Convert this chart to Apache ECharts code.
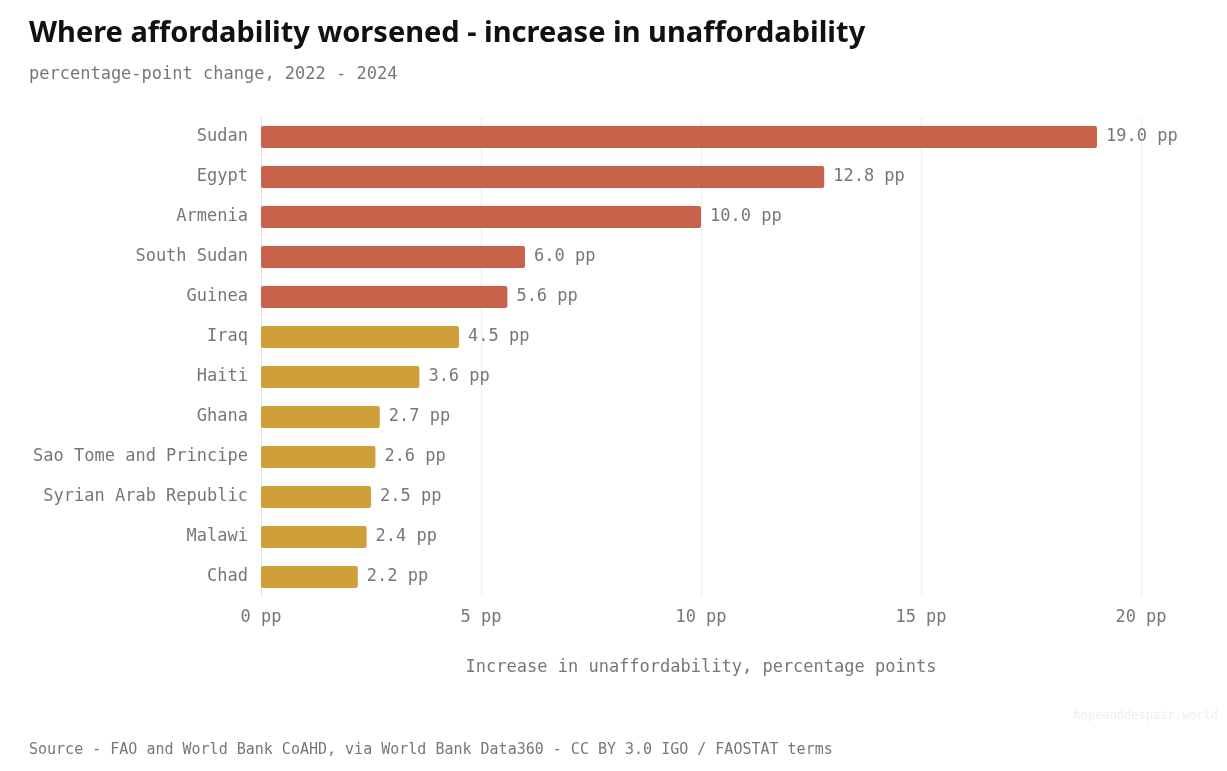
<!DOCTYPE html>
<html><head><meta charset="utf-8">
<script src="https://cdn.jsdelivr.net/npm/echarts@6/dist/echarts.min.js"></script>
<style>html,body{margin:0;padding:0;background:#fff}#chart{width:1227px;height:771px}</style>
</head><body><div id="chart"></div>
<script>
// valores
const countries = ["Sudan","Egypt","Armenia","South Sudan","Guinea","Iraq","Haiti","Ghana","Sao Tome and Principe","Syrian Arab Republic","Malawi","Chad"];
const increases = [19.0,12.8,10.0,6.0,5.6,4.5,3.6,2.7,2.6,2.5,2.4,2.2];
const highlightCount = 5; // los primeros en rojo

const mono = "DejaVu Sans Mono";
const chart = echarts.init(document.getElementById('chart'));

const option = {
  backgroundColor: "#ffffff",
  animation: false,
  title: [
    { text: "Where affordability worsened - increase in unaffordability", left: 24, top: 14,
      textStyle: { fontFamily: "Noto Sans", fontWeight: "bold", fontSize: 29, color: "#111" } },
    { text: "percentage-point change, 2022 - 2024", left: 24, top: 61,
      textStyle: { fontFamily: mono, fontWeight: "normal", fontSize: 17, color: "#777" } },
    { text: "Source - FAO and World Bank CoAHD, via World Bank Data360 - CC BY 3.0 IGO / FAOSTAT terms", left: 24, top: 738,
      textStyle: { fontFamily: mono, fontWeight: "normal", fontSize: 15, color: "#777" } },
    { text: "hopeanddespair.world", right: 4, top: 705,
      textStyle: { fontFamily: mono, fontWeight: "normal", fontSize: 12, color: "#eee" } }
  ],
  grid: { left: 261, right: 86, top: 117, bottom: 174 },
  xAxis: {
    type: "value", min: 0, max: 20, interval: 5,
    name: "Increase in unaffordability, percentage points",
    nameLocation: "middle", nameGap: 62,
    nameTextStyle: { fontFamily: mono, fontSize: 17, color: "#777" },
    axisLabel: { formatter: v => v + " pp", fontFamily: mono, fontSize: 17, color: "#777", margin: 12 },
    axisLine: { show: false }, axisTick: { show: false },
    splitLine: { lineStyle: { color: "#eeeeee" } }
  },
  yAxis: {
    type: "category", data: countries, inverse: true,
    axisLine: { show: true, lineStyle: { color: "#e4e4e4" } },
    axisTick: { show: false },
    axisLabel: { fontFamily: mono, fontSize: 17, color: "#777", margin: 13 }
  },
  series: [{
    type: "bar", barWidth: 22,
    data: increases.map((v, i) => ({
      value: v,
      itemStyle: { color: i < highlightCount ? "#C8624A" : "#CFA03A", borderRadius: 2 }
    })),
    label: { show: true, position: "right", distance: 9, formatter: p => p.value.toFixed(1) + " pp",
      fontFamily: mono, fontSize: 17, color: "#777" }
  }]
};
chart.setOption(option);
</script></body></html>
